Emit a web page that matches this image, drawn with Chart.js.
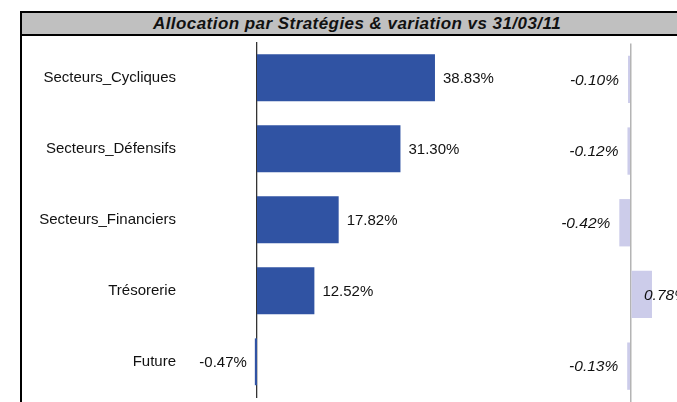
<!DOCTYPE html>
<html>
<head>
<meta charset="utf-8">
<script src="https://cdn.jsdelivr.net/npm/chart.js@4"></script>
<style>
html,body{margin:0;padding:0;background:#fff;width:677px;height:402px;overflow:hidden;position:relative;}
#title{position:absolute;left:20px;top:11px;width:670px;height:21px;border:2px solid #000;background:#c0c0c0;
  text-align:center;font:bold italic 17px "Liberation Sans",Arial,sans-serif;letter-spacing:0.45px;line-height:21px;color:#111;white-space:nowrap;}
#leftLine{position:absolute;left:20px;top:36px;width:2px;height:366px;background:#000;}
#left{position:absolute;left:0;top:0;}
#right{position:absolute;left:560px;top:0;}
</style>
</head>
<body>
<div id="title">Allocation par Stratégies &amp; variation vs 31/03/11</div>
<canvas id="left" width="532" height="402"></canvas>
<canvas id="right" width="117" height="402"></canvas>
<div id="leftLine"></div>
<script>
const categories = ['Secteurs_Cycliques', 'Secteurs_Défensifs', 'Secteurs_Financiers', 'Trésorerie', 'Future'];
const allocation = [38.83, 31.30, 17.82, 12.52, -0.47];
const variation = [-0.10, -0.12, -0.42, 0.78, -0.13];

const FONT = '"Liberation Sans", Arial, sans-serif';

const valueLabels = {
  id: 'valueLabels',
  afterDatasetsDraw(chart, args, opts) {
    const ctx = chart.ctx;
    const meta = chart.getDatasetMeta(0);
    const data = chart.data.datasets[0].data;
    ctx.save();
    ctx.font = opts.font;
    ctx.fillStyle = '#111';
    ctx.textBaseline = 'middle';
    meta.data.forEach((bar, i) => {
      const v = data[i];
      const txt = v.toFixed(2) + '%';
      if (v >= 0) {
        ctx.textAlign = 'left';
        ctx.fillText(txt, bar.x + opts.posGap, bar.y + 1);
      } else {
        ctx.textAlign = 'right';
        ctx.fillText(txt, bar.x - opts.negGap, bar.y + 1);
      }
    });
    ctx.restore();
  }
};

new Chart(document.getElementById('left'), {
  type: 'bar',
  data: {
    labels: categories,
    datasets: [{
      data: allocation,
      backgroundColor: '#3053a3',
      barPercentage: 0.66,
      categoryPercentage: 1,
      clip: false
    }]
  },
  options: {
    indexAxis: 'y',
    responsive: false,
    animation: false,
    events: [],
    layout: { padding: { top: 42.3, bottom: 4.7, left: 0, right: 0 } },
    plugins: {
      legend: { display: false },
      tooltip: { enabled: false },
      valueLabels: { font: '15px ' + FONT, posGap: 8, negGap: 8 }
    },
    scales: {
      x: { display: false, min: 0, max: 60 },
      y: {
        grid: { display: false, drawTicks: false },
        border: { display: true, color: '#333', width: 1.3 },
        ticks: { padding: 81, color: '#111', font: { family: FONT, size: 15 } },
        afterFit(s) { s.width = 257; s.paddingTop = 0; s.paddingBottom = 0; }
      }
    }
  },
  plugins: [valueLabels]
});

new Chart(document.getElementById('right'), {
  type: 'bar',
  data: {
    labels: categories,
    datasets: [{
      data: variation,
      backgroundColor: '#ccccea',
      barPercentage: 0.66,
      categoryPercentage: 1,
      clip: false
    }]
  },
  options: {
    indexAxis: 'y',
    responsive: false,
    animation: false,
    events: [],
    layout: { padding: { top: 43.5, bottom: 0, left: 0, right: 0 } },
    plugins: {
      legend: { display: false },
      tooltip: { enabled: false },
      valueLabels: { font: 'italic 15.5px ' + FONT, posGap: -8, negGap: 9 }
    },
    scales: {
      x: {
        min: -2.6, max: 1.7,
        ticks: { display: false, stepSize: 0.5 },
        border: { display: false },
        grid: {
          drawTicks: false,
          lineWidth: 1.5,
          color: (c) => (c.tick && Math.abs(c.tick.value) < 1e-9) ? '#b4b4b4' : 'rgba(0,0,0,0)'
        }
      },
      y: { display: false }
    }
  },
  plugins: [valueLabels]
});
</script>
</body>
</html>
